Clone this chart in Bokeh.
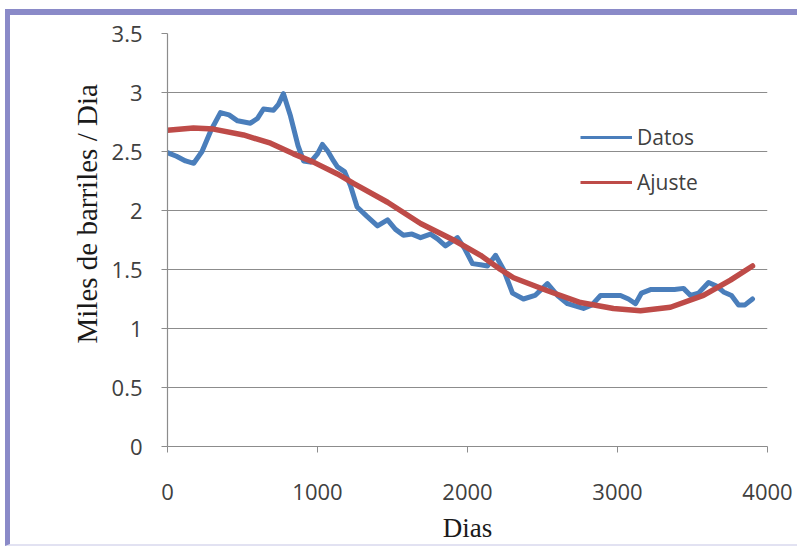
from bokeh.plotting import figure
from bokeh.models import Range1d, Legend, LegendItem, Title, FixedTicker, ColumnDataSource
from bokeh.embed import file_html
from bokeh.resources import INLINE

# --- data ---
dias_datos = [0, 60, 120, 175, 230, 290, 353, 410, 467, 553, 600, 640, 707, 740, 773,
              820, 870, 907, 953, 1000, 1033, 1070, 1107, 1133, 1180, 1220, 1264, 1330,
              1400, 1467, 1520, 1573, 1630, 1687, 1753, 1800, 1853, 1900, 1933, 1980,
              2033, 2087, 2133, 2187, 2240, 2300, 2373, 2450, 2533, 2600, 2667, 2773,
              2830, 2887, 2950, 3020, 3073, 3120, 3160, 3220, 3300, 3380, 3440, 3487,
              3540, 3607, 3660, 3707, 3760, 3807, 3850, 3900]
datos = [2.49, 2.46, 2.42, 2.40, 2.50, 2.68, 2.83, 2.81, 2.76, 2.74, 2.78, 2.86, 2.85, 2.90, 2.99,
         2.80, 2.55, 2.42, 2.41, 2.48, 2.56, 2.50, 2.42, 2.37, 2.33, 2.21, 2.03, 1.95,
         1.87, 1.92, 1.84, 1.79, 1.80, 1.77, 1.80, 1.76, 1.70, 1.74, 1.77, 1.68,
         1.55, 1.54, 1.53, 1.62, 1.50, 1.30, 1.25, 1.28, 1.38, 1.28, 1.21, 1.17,
         1.20, 1.28, 1.28, 1.28, 1.25, 1.21, 1.30, 1.33, 1.33, 1.33, 1.34, 1.28,
         1.30, 1.39, 1.36, 1.31, 1.28, 1.20, 1.20, 1.25]

dias_ajuste = [0, 173, 307, 507, 687, 840, 973, 1020, 1133, 1240, 1467, 1687, 1907, 2087,
               2220, 2307, 2533, 2753, 2973, 3153, 3353, 3573, 3753, 3900]
ajuste = [2.68, 2.70, 2.69, 2.64, 2.57, 2.48, 2.41, 2.38, 2.31, 2.23, 2.07, 1.89, 1.75, 1.62,
          1.50, 1.43, 1.32, 1.22, 1.17, 1.15, 1.18, 1.28, 1.41, 1.53]

x_ticks = [0, 1000, 2000, 3000, 4000]
y_ticks = [0, 0.5, 1, 1.5, 2, 2.5, 3, 3.5]
y_labels = {0: "0", 0.5: "0.5", 1: "1", 1.5: "1.5", 2: "2", 2.5: "2.5", 3: "3", 3.5: "3.5"}

BLUE = "#4A7EBB"
RED = "#BE4B48"
TICK_FONT = "Open Sans"
SERIF = "Liberation Serif"
NAN = float("nan")

p = figure(width=792, height=537, output_backend="svg", toolbar_location=None,
           x_range=Range1d(0, 4000), y_range=Range1d(0, 3.5),
           min_border_left=157, min_border_right=35, min_border_top=18, min_border_bottom=106)
p.styles = {"margin-left": "5px", "margin-top": "9px",
            "border-top": "6px solid #8A8AC8", "border-left": "5px solid #8A8AC8",
            "border-bottom": "2px solid #E2E2F2"}
p.outline_line_color = None
p.background_fill_color = "white"
p.border_fill_color = "white"

p.xgrid.grid_line_color = None
p.ygrid.grid_line_color = "#8C8C8C"
p.ygrid.grid_line_width = 1.2
p.ygrid.ticker = FixedTicker(ticks=y_ticks)

for ax in (p.xaxis[0], p.yaxis[0]):
    ax.axis_line_color = "#8C8C8C"
    ax.axis_line_width = 1.2
    ax.major_tick_line_color = "#8C8C8C"
    ax.major_tick_out = 6
    ax.major_tick_in = 0
    ax.minor_tick_line_color = None
    ax.major_label_text_font = TICK_FONT
    ax.major_label_text_font_size = "22px"
    ax.major_label_text_color = "#404040"

p.xaxis.ticker = FixedTicker(ticks=x_ticks)
p.yaxis.ticker = FixedTicker(ticks=y_ticks)
p.yaxis.major_label_overrides = y_labels
p.xaxis.major_label_standoff = 31
p.yaxis.major_label_standoff = 19

p.xaxis.axis_label = "Dias"
p.xaxis.axis_label_text_font = SERIF
p.xaxis.axis_label_text_font_size = "27px"
p.xaxis.axis_label_text_font_style = "normal"
p.xaxis.axis_label_text_color = "#1a1a1a"
p.xaxis.axis_label_standoff = 10

ytitle = Title(text="Miles de barriles / Dia", align="left", offset=103,
               text_font=SERIF, text_font_size="29px", text_font_style="normal",
               text_color="#1a1a1a", standoff=12)
p.add_layout(ytitle, "left")

src_d = ColumnDataSource(dict(x=dias_datos, y=datos))
src_a = ColumnDataSource(dict(x=dias_ajuste, y=ajuste))
p.line("x", "y", source=src_d, line_color=BLUE, line_width=5, line_join="round", line_cap="round")
p.line("x", "y", source=src_a, line_color=RED, line_width=5.5, line_join="round", line_cap="round")

# legend proxies (thinner lines, as in the reference legend)
leg_d = p.line(x=[NAN], y=[NAN], line_color=BLUE, line_width=3)
leg_a = p.line(x=[NAN], y=[NAN], line_color=RED, line_width=3)
legend = Legend(items=[LegendItem(label="Datos", renderers=[leg_d]),
                       LegendItem(label="Ajuste", renderers=[leg_a])],
                location=(413, 250), glyph_width=52, glyph_height=20, label_height=20,
                spacing=17, padding=0, margin=0, label_standoff=5,
                border_line_color=None, background_fill_alpha=0,
                label_text_font=TICK_FONT, label_text_font_size="21px",
                label_text_color="#404040")
p.add_layout(legend)

open("out.html", "w").write(file_html(p, INLINE))
